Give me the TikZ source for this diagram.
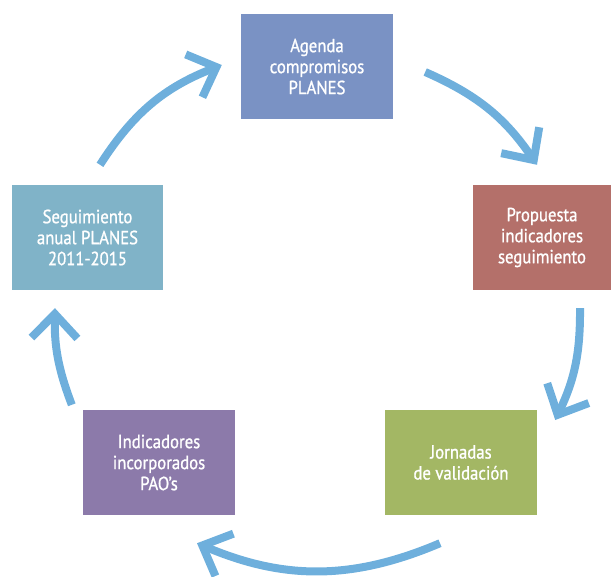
\documentclass[tikz,border=0pt]{standalone}
\usepackage{fontspec}
\usepackage{xcolor}
\usetikzlibrary{arrows.meta}
\newfontfamily\cajafont[FakeStretch=0.88, FakeBold=1]{PT Sans}
\definecolor{cajaazul}{HTML}{7A92C4}
\definecolor{cajaturquesa}{HTML}{80B3C8}
\definecolor{cajarojo}{HTML}{B4706A}
\definecolor{cajaverde}{HTML}{A3B764}
\definecolor{cajamorado}{HTML}{8C7AAA}
\definecolor{flechaazul}{HTML}{6EAFDC}

\begin{document}
\begin{tikzpicture}[x=1pt, y=-1pt,
  caja/.style={minimum width=152pt, minimum height=105pt, inner sep=0pt, text=white, align=center, font=\cajafont\fontsize{19}{21}\selectfont},
  flecha/.style={line width=8pt, flechaazul, -{Straight Barb[length=24pt, width=46pt]}}]
  \useasboundingbox (0,0) rectangle (613,576);
  \node[caja, fill=cajaazul] (agenda) at (317,66.5) {Agenda\\compromisos\\PLANES};
  \node[caja, fill=cajarojo, minimum width=138pt] (propuesta) at (542,237.5) {Propuesta\\indicadores\\seguimiento};
  \node[caja, fill=cajaverde] (jornadas) at (461,462.5) {Jornadas\\de validación};
  \node[caja, fill=cajamorado] (indicadores) at (159,462.5) {Indicadores\\incorporados\\PAO’s};
  \node[caja, fill=cajaturquesa, minimum width=151pt] (seguimiento) at (87.5,237.5) {Seguimiento\\anual PLANES\\2011-2015};
  \draw[flecha] ([shift={(12.5,-20)}]seguimiento.north) to[bend left=18] ([shift={(-19,-1.5)}]agenda.west);
  \draw[flecha] ([shift={(32,5.5)}]agenda.east) to[bend left=16] ([shift={(-5,-20)}]propuesta.north);
  \draw[flecha] ([shift={(38,18)}]propuesta.south) to[bend left=13] ([shift={(18,-42.5)}]jornadas.east);
  \draw[flecha] ([shift={(-21,28)}]jornadas.south) to[bend left=23] ([shift={(38,28)}]indicadores.south);
  \draw[flecha] ([shift={(-11,-5)}]indicadores.north west) to[bend left=11] ([shift={(-32.5,18)}]seguimiento.south);
\end{tikzpicture}
\end{document}
